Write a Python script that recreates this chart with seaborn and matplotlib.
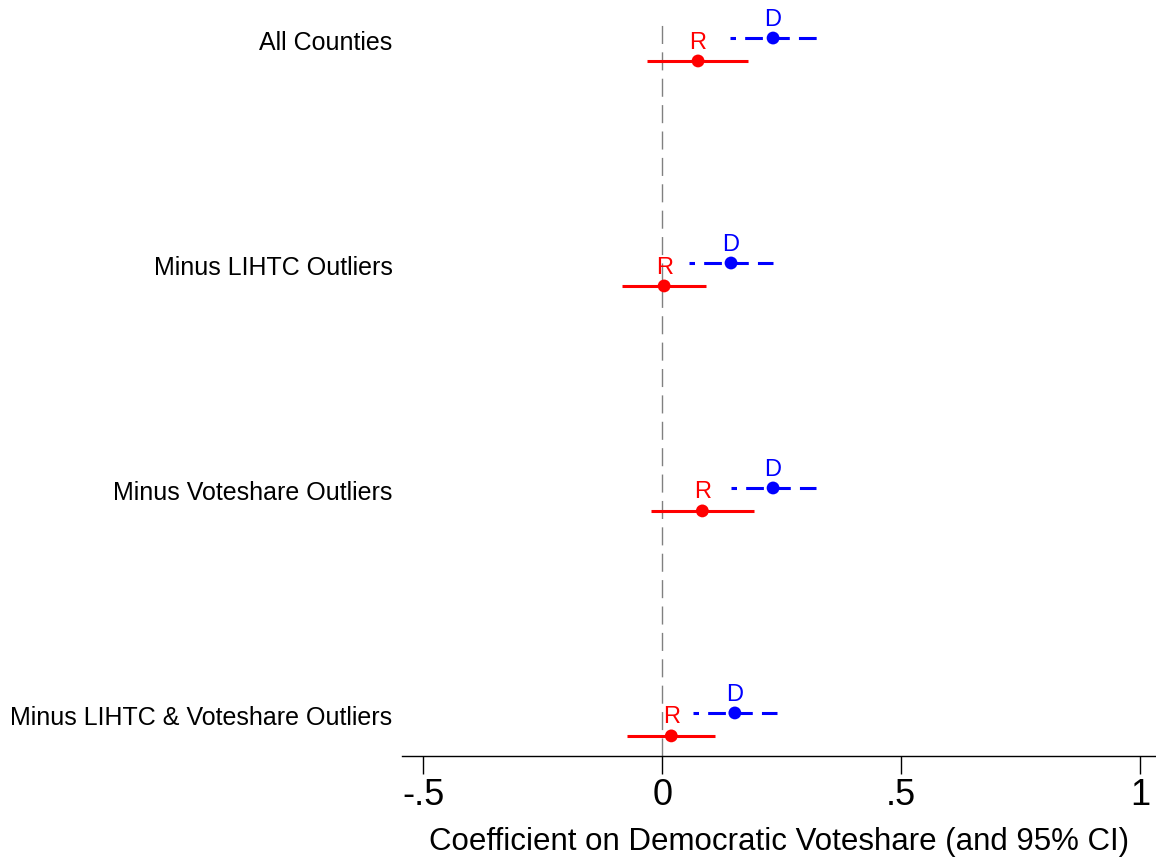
import numpy as np
import pandas as pd
import seaborn as sns
from matplotlib import pyplot as plt

labels = ["All Counties", "Minus LIHTC Outliers", "Minus Voteshare Outliers",
          "Minus LIHTC & Voteshare Outliers"]
d_coef = [0.232, 0.144, 0.232, 0.152]
d_lo = [0.142, 0.056, 0.144, 0.065]
d_hi = [0.324, 0.232, 0.321, 0.240]
r_coef = [0.075, 0.004, 0.084, 0.019]
r_lo = [-0.031, -0.084, -0.023, -0.073]
r_hi = [0.180, 0.092, 0.192, 0.111]
xticks = [-0.5, 0, 0.5, 1]
xticklabels = ["-.5", "0", ".5", "1"]

sns.set_style("white")
plt.rcParams["font.family"] = ["Liberation Sans", "DejaVu Sans"]
plt.rcParams["text.color"] = "black"
plt.rcParams["xtick.color"] = "black"
plt.rcParams["ytick.color"] = "black"
plt.rcParams["axes.labelcolor"] = "black"

off = 0.051
pos = np.arange(len(labels))
df = pd.concat([
    pd.DataFrame({"y": pos - off, "coef": d_coef, "lo": d_lo, "hi": d_hi, "party": "D"}),
    pd.DataFrame({"y": pos + off, "coef": r_coef, "lo": r_lo, "hi": r_hi, "party": "R"}),
])
colors = {"D": "#0000ff", "R": "#ff0000"}

fig = plt.figure(figsize=(11.56, 8.59), dpi=100)
ax = fig.add_axes([0.348, 0.12, 0.651, 0.88])

# reference line at zero
ax.axvline(0, ymax=0.975, color="#808080", lw=1, ls=(0, (13, 6)), zorder=0)

for p, sub in df.groupby("party"):
    ls = (4, (5.8, 3)) if p == "D" else "-"
    ax.hlines(sub["y"], sub["lo"], sub["hi"], color=colors[p], lw=2.2,
              linestyles=[ls])
    for _, r in sub.iterrows():
        ax.text(r["coef"], r["y"] - 0.033, p, color=colors[p], fontsize=17,
                ha="center", va="bottom")

sns.scatterplot(data=df, x="coef", y="y", hue="party", palette=colors, s=85,
                edgecolor="none", legend=False, ax=ax, zorder=3)

ax.set_xlim(-0.544, 1.031)
ax.set_ylim(3.14, -0.22)
ax.set_xticks(xticks)
ax.set_xticklabels(xticklabels, fontsize=26)
ax.set_yticks(pos - 0.04)
ax.set_yticklabels(labels, fontsize=18)
ax.tick_params(axis="x", length=13, width=1, direction="out", bottom=True, pad=3)
ax.tick_params(axis="y", length=0, pad=7)
ax.set_xlabel("Coefficient on Democratic Voteshare (and 95% CI)", fontsize=22.5, labelpad=10)
ax.set_ylabel("")
for s in ["top", "right", "left"]:
    ax.spines[s].set_visible(False)
ax.spines["bottom"].set_color("black")
ax.spines["bottom"].set_linewidth(1)

plt.savefig("out.png", dpi=100)
